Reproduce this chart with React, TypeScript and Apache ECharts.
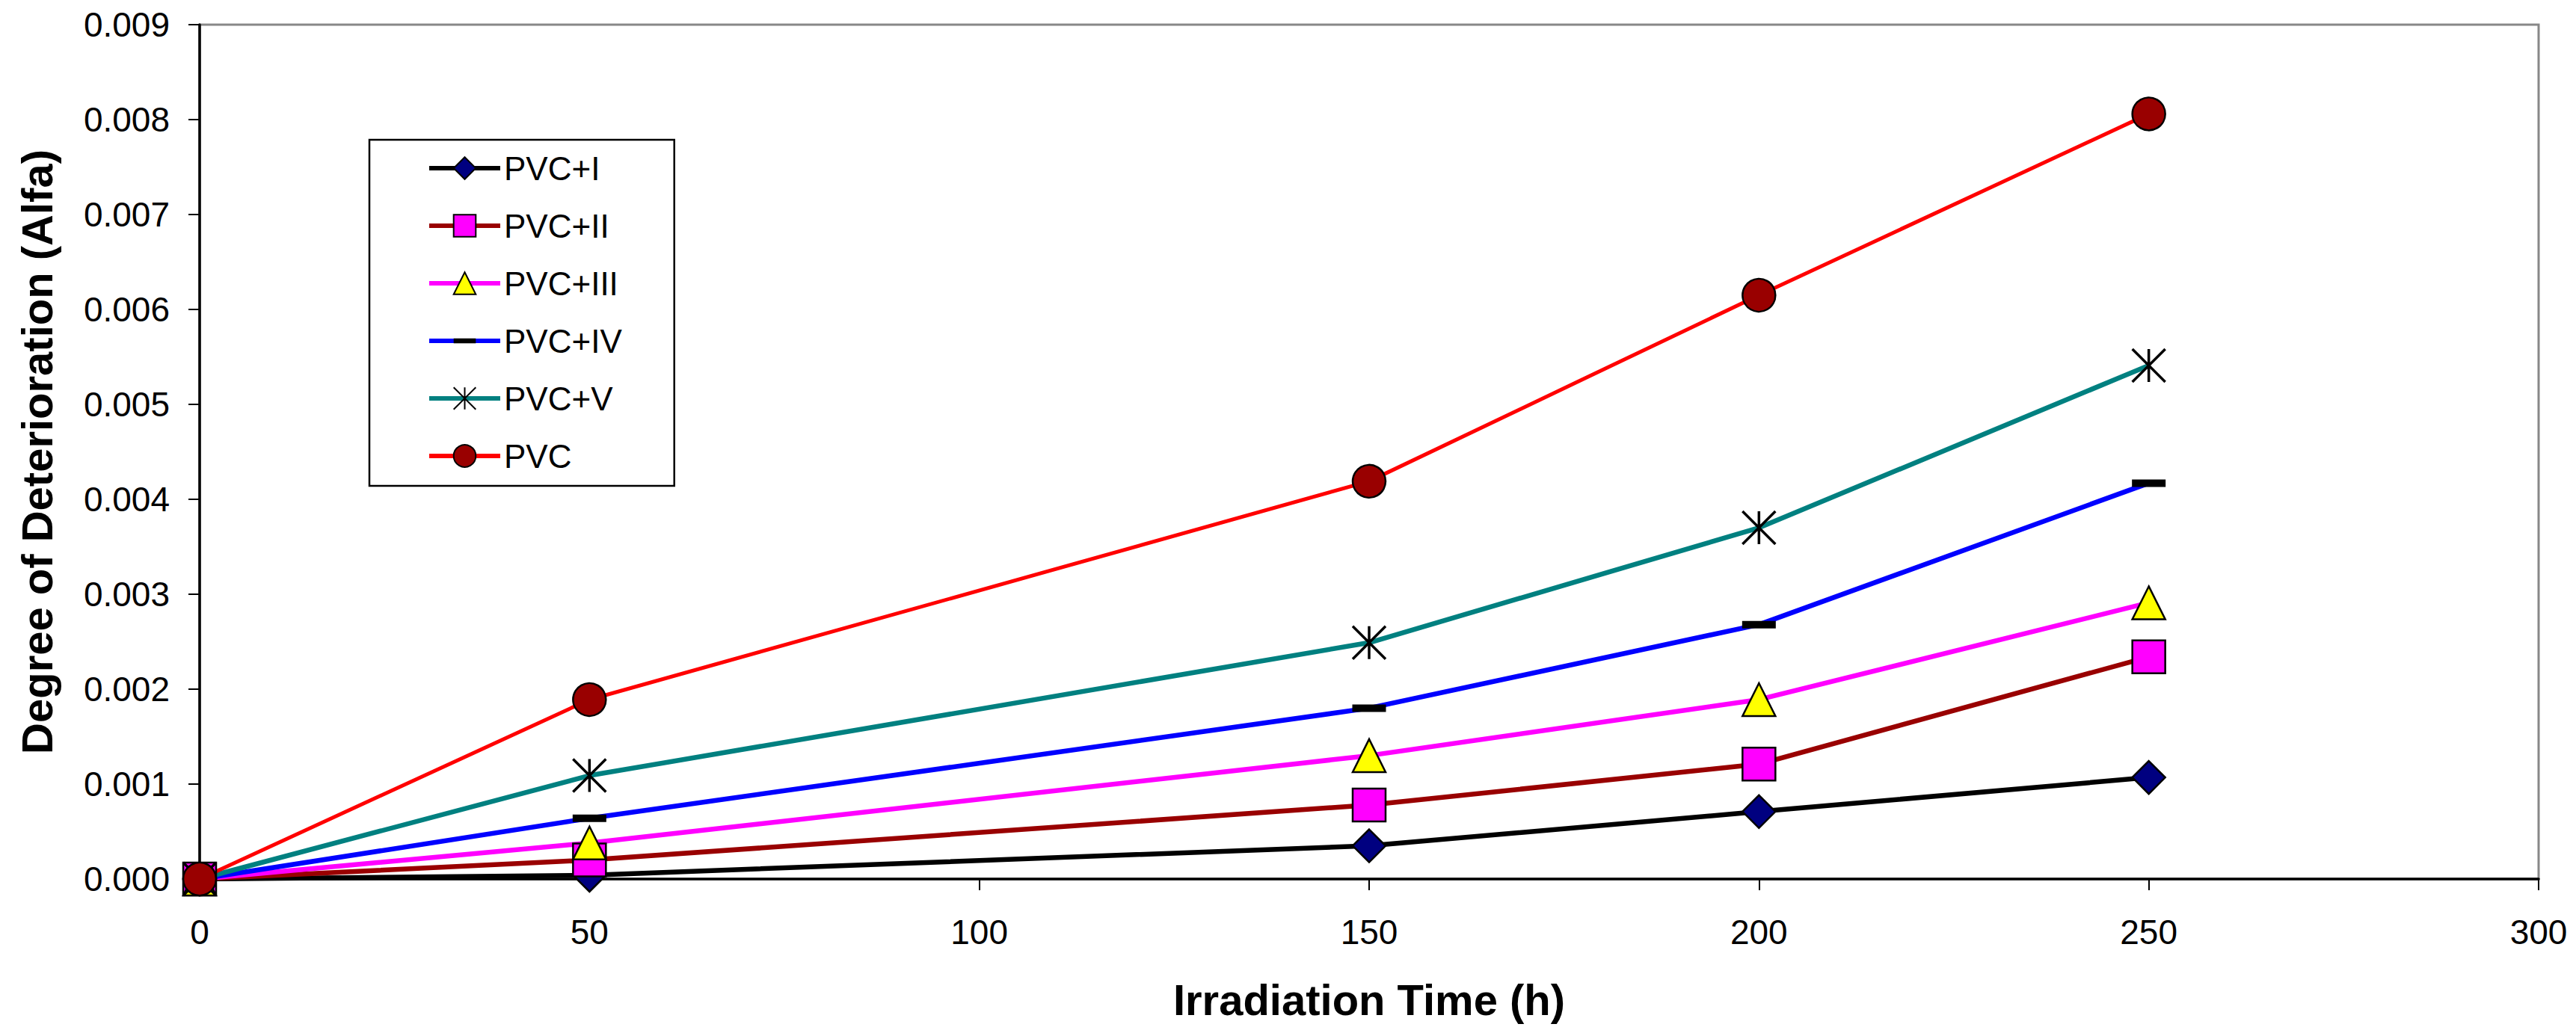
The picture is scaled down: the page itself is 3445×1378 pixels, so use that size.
import React, { useEffect, useRef } from 'react';
import * as echarts from 'echarts';

// irradiation time (h)
const hours = [0, 50, 150, 200, 250];

// degree of deterioration (alfa) per sample
const pvcI = [0, 0.00004, 0.00035, 0.00071, 0.00107];
const pvcII = [0, 0.0002, 0.00078, 0.00121, 0.00234];
const pvcIII = [0, 0.00038, 0.0013, 0.00189, 0.00291];
const pvcIV = [0, 0.00064, 0.0018, 0.00268, 0.00417];
const pvcV = [0, 0.00109, 0.00249, 0.0037, 0.00541];
const pvc = [0, 0.00189, 0.00419, 0.00615, 0.00806];

const seriesNames = ['PVC+I', 'PVC+II', 'PVC+III', 'PVC+IV', 'PVC+V', 'PVC'];

const FONT = "'Liberation Sans', Arial, sans-serif";

// asterisk marker (stroked only)
const STAR = 'path://M22,0 L22,44 M0,0 L44,44 M44,0 L0,44';
// flat dash inside a square box, so it stays flat in the legend too
const DASH = 'path://M0,0 M45,45 M0,17.5 L45,17.5 L45,27.5 L0,27.5 Z';

const App: React.FC = () => {
  const chartRef = useRef<HTMLDivElement>(null);

  useEffect(() => {
    if (!chartRef.current) return;
    const chart = echarts.init(chartRef.current, null, { renderer: 'svg' });

    const toPoints = (vals: number[]) => hours.map((h, i) => [h, vals[i]]);

    const makeSeries = (
      name: string,
      vals: number[],
      lineColor: string,
      lineWidth: number,
      symbol: string,
      symbolSize: number,
      fill: string,
      borderWidth = 2.5
    ) => ({
      name,
      type: 'line',
      data: toPoints(vals),
      symbol,
      symbolSize,
      showAllSymbol: true,
      clip: false,
      lineStyle: { color: lineColor, width: lineWidth },
      itemStyle: { color: fill, borderColor: '#000', borderWidth },
      emphasis: { disabled: true }
    });

    const option: any = {
      animation: false,
      backgroundColor: '#fff',
      textStyle: { fontFamily: FONT },
      grid: {
        left: 267,
        top: 33,
        right: 50,
        bottom: 202,
        show: true,
        borderColor: '#888',
        borderWidth: 3,
        backgroundColor: 'transparent'
      },
      legend: {
        orient: 'vertical',
        left: 494,
        top: 187,
        data: seriesNames,
        itemWidth: 95,
        itemHeight: 37,
        itemGap: 33,
        padding: [16, 70, 18, 77],
        borderColor: '#000',
        borderWidth: 2.5,
        backgroundColor: '#fff',
        borderRadius: 0,
        lineStyle: { width: 6 },
        textStyle: { fontFamily: FONT, fontSize: 44, color: '#000' }
      },
      xAxis: {
        type: 'value',
        min: 0,
        max: 300,
        interval: 50,
        name: 'Irradiation Time (h)',
        nameLocation: 'middle',
        nameGap: 132,
        nameTextStyle: { fontFamily: FONT, fontSize: 58, fontWeight: 'bold', color: '#000' },
        axisLine: { show: true, onZero: false, lineStyle: { color: '#000', width: 3.5 } },
        axisTick: { show: true, length: 15, lineStyle: { color: '#000', width: 2 } },
        axisLabel: { fontFamily: FONT, fontSize: 46, color: '#000', margin: 48 },
        splitLine: { show: false }
      },
      yAxis: {
        type: 'value',
        min: 0,
        max: 0.009,
        interval: 0.001,
        name: 'Degree of Deterioration (Alfa)',
        nameLocation: 'middle',
        nameGap: 189,
        nameTextStyle: { fontFamily: FONT, fontSize: 58, fontWeight: 'bold', color: '#000' },
        axisLine: { show: true, onZero: false, lineStyle: { color: '#000', width: 3.5 } },
        axisTick: { show: true, length: 15, lineStyle: { color: '#000', width: 2 } },
        axisLabel: {
          fontFamily: FONT,
          fontSize: 46,
          color: '#000',
          margin: 40,
          formatter: (v: number) => v.toFixed(3)
        },
        splitLine: { show: false }
      },
      series: [
        makeSeries('PVC+I', pvcI, '#000000', 6.5, 'diamond', 44, '#000080'),
        makeSeries('PVC+II', pvcII, '#990000', 6.5, 'rect', 44, '#FF00FF'),
        makeSeries('PVC+III', pvcIII, '#FF00FF', 6.5, 'triangle', 44, '#FFFF00'),
        makeSeries('PVC+IV', pvcIV, '#0000FF', 6.5, DASH, 45, '#000000', 0),
        makeSeries('PVC+V', pvcV, '#008080', 6.5, STAR, 44, 'none', 3.5),
        makeSeries('PVC', pvc, '#FF0000', 5, 'circle', 44, '#990000')
      ]
    };

    chart.setOption(option);

    const handleResize = () => chart.resize();
    window.addEventListener('resize', handleResize);
    return () => {
      window.removeEventListener('resize', handleResize);
      chart.dispose();
    };
  }, []);

  return (
    <div
      ref={chartRef}
      style={{ position: 'absolute', left: 0, top: 0, width: '3445px', height: '1378px', background: '#fff' }}
    />
  );
};

export default App;
